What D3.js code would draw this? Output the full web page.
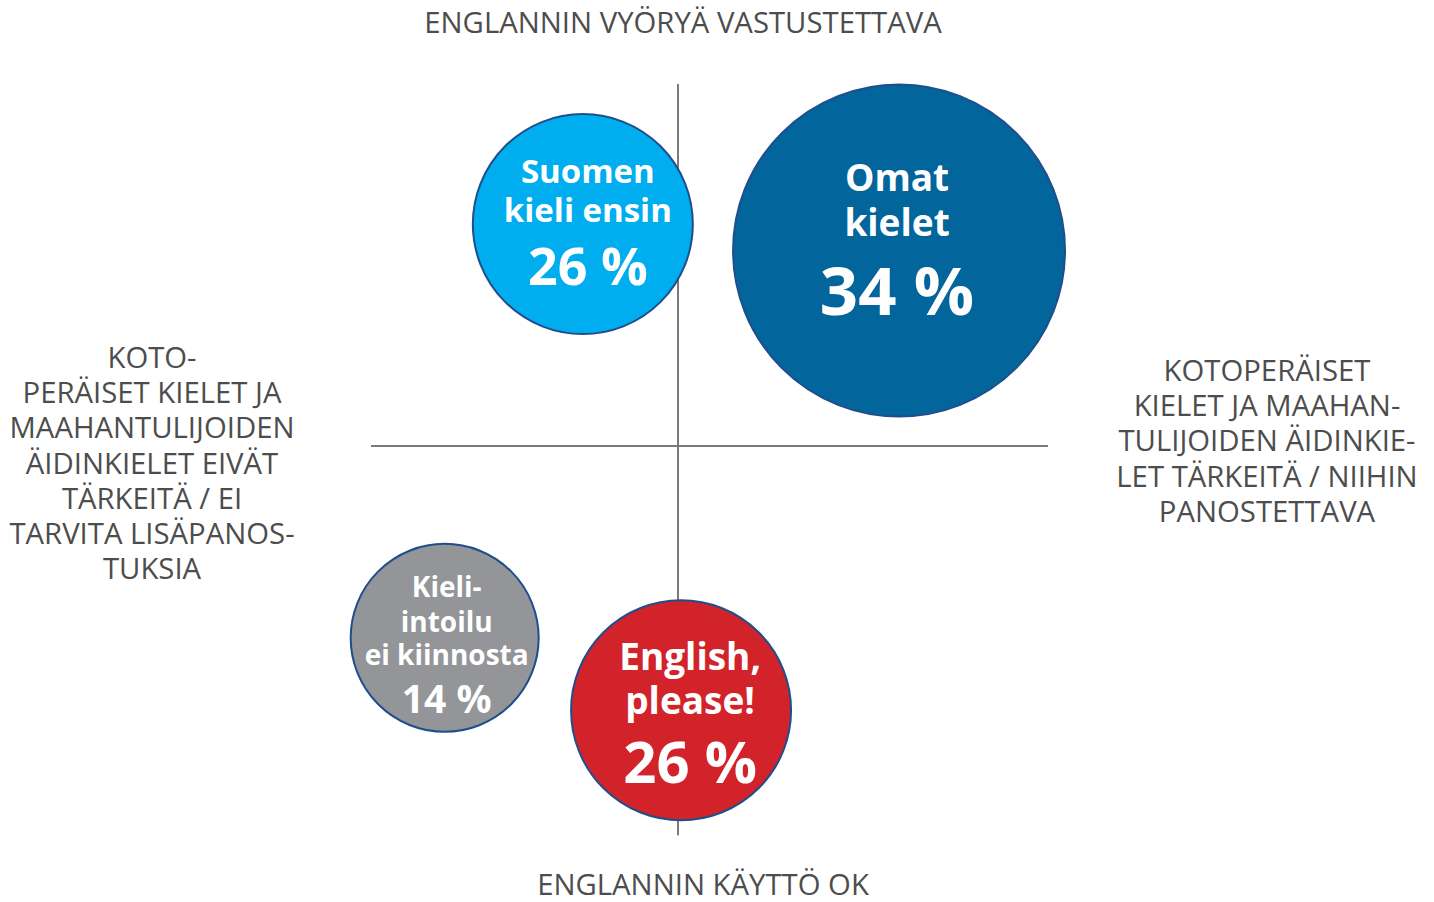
<!DOCTYPE html>
<html>
<head>
<meta charset="utf-8">
<script src="https://cdn.jsdelivr.net/npm/d3@7"></script>
<style>
  body { margin: 0; background: #fff; }
  svg { display: block; font-family: "Open Sans", sans-serif; }
</style>
</head>
<body>
<svg id="chart" width="1434" height="902"></svg>
<script>
// bubble data
const groups = [["Suomen", "kieli ensin"], ["Omat", "kielet"], ["Kieli-", "intoilu", "ei kiinnosta"], ["English,", "please!"]];
const shares = [26, 34, 14, 26];
// position on the two attitude dimensions (-1..1)
const attitudeX = [-0.31, 0.72, -0.76, 0.01];
const attitudeY = [0.613, 0.54, -0.53, -0.73];

// axis end labels
const topLabel = ["ENGLANNIN VYÖRYÄ VASTUSTETTAVA"];
const bottomLabel = ["ENGLANNIN KÄYTTÖ OK"];
const leftLabel = ["KOTO-", "PERÄISET KIELET JA", "MAAHANTULIJOIDEN", "ÄIDINKIELET EIVÄT", "TÄRKEITÄ / EI", "TARVITA LISÄPANOS-", "TUKSIA"];
const rightLabel = ["KOTOPERÄISET", "KIELET JA MAAHAN-", "TULIJOIDEN ÄIDINKIE-", "LET TÄRKEITÄ / NIIHIN", "PANOSTETTAVA"];

// styles per bubble
const fills = ["#00aeef", "#02659b", "#939598", "#d2232a"];
const titleSize = [33, 37, 28, 37];
const pctSize = [52, 67, 39, 58];
const titleLines = [[-41, -2], [-60, -15], [-41, -6, 27], [-40, 4]];
const pctLine = [61, 64, 75, 73];
const textDx = [5, -2, 2, 9];

let svg = d3.select("#chart");

let x = d3.scaleLinear().domain([-1, 1]).range([371, 985]);
let y = d3.scaleLinear().domain([-1, 1]).range([808, 84]);
let r = d3.scaleLinear().domain([14, 26, 34]).range([94, 110, 166]);

// quadrant axes
svg.append("line")
    .attr("x1", x(-1)).attr("x2", x(1.205))
    .attr("y1", y(0)).attr("y2", y(0))
    .attr("stroke", "#7a7a7a").attr("stroke-width", 2);
svg.append("line")
    .attr("x1", x(0)).attr("x2", x(0))
    .attr("y1", y(1)).attr("y2", y(-1.075))
    .attr("stroke", "#7a7a7a").attr("stroke-width", 2);

function multiLine(lines, cx, y0, step) {
    let t = svg.append("text")
        .attr("text-anchor", "middle")
        .attr("font-size", 29.3)
        .attr("fill", "#4d4d4d");
    lines.forEach((l, i) => {
        t.append("tspan").attr("x", cx).attr("y", y0 + i * step).text(l);
    });
}
multiLine(topLabel, 683, 33, 35);
multiLine(bottomLabel, 703, 895, 35);
multiLine(leftLabel, 152, 368, 35.2);
multiLine(rightLabel, 1267, 381, 35.2);

// bubbles
let bubbles = svg.selectAll(".bubble")
    .data(shares)
    .enter()
    .append("g")
    .attr("class", "bubble")
    .attr("transform", (d, i) => "translate(" + x(attitudeX[i]) + "," + y(attitudeY[i]) + ")");

bubbles.append("circle")
    .attr("r", d => r(d))
    .attr("fill", (d, i) => fills[i])
    .attr("stroke", "#1f4e8c")
    .attr("stroke-width", 2);

bubbles.each(function(d, i) {
    let g = d3.select(this);
    groups[i].forEach((line, j) => {
        g.append("text")
            .attr("x", textDx[i]).attr("y", titleLines[i][j])
            .attr("text-anchor", "middle")
            .attr("font-weight", 700)
            .attr("font-size", titleSize[i])
            .attr("fill", "#fff")
            .text(line);
    });
    g.append("text")
        .attr("x", textDx[i]).attr("y", pctLine[i])
        .attr("text-anchor", "middle")
        .attr("font-weight", 700)
        .attr("font-size", pctSize[i])
        .attr("fill", "#fff")
        .text(d + " %");
});
</script>
</body>
</html>
